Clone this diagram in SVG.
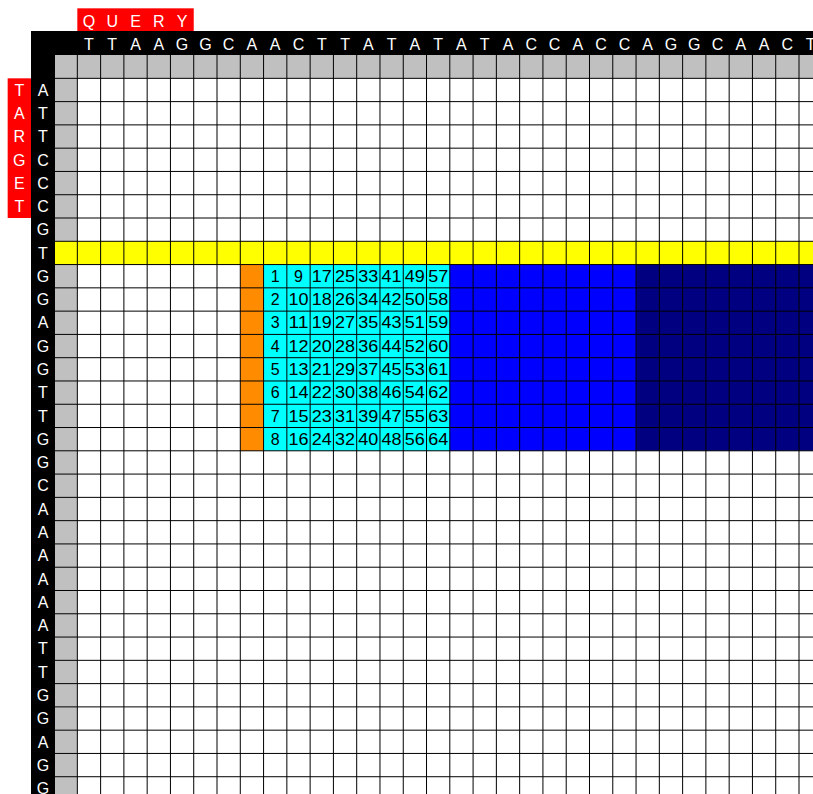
<svg xmlns="http://www.w3.org/2000/svg" width="813" height="794" viewBox="0 0 813 794">
<style>
.lbl{font-family:"Liberation Sans",Arial,sans-serif;font-size:16px;fill:#fff;text-anchor:middle}
.n{font-family:"Liberation Sans",Arial,sans-serif;font-size:16px;fill:#000;text-anchor:middle}
.grid{fill:none;stroke:#000;stroke-width:1}
</style>
<rect width="813" height="794" fill="#fff"/>
<g id="query-tag">
<rect x="77.33" y="8.33" width="116.4" height="22.67" fill="#ff0000"/>
<text class="lbl" x="88.97 112.25 135.53 158.81 182.09" y="27.3">QUERY</text>
</g>
<g id="target-tag">
<rect x="7.67" y="78.33" width="23.33" height="139.68" fill="#ff0000"/>
<text class="lbl" x="19.3 19.3 19.3 19.3 19.3 19.3" y="95.67 118.95 142.23 165.51 188.79 212.07">TARGET</text>
</g>
<g id="headers">
<rect x="31" y="31" width="782" height="24" fill="#000"/>
<rect x="31" y="31" width="24" height="763" fill="#000"/>
<rect x="55" y="55" width="758" height="23.33" fill="#c0c0c0"/>
<rect x="55" y="55" width="22.33" height="739" fill="#c0c0c0"/>
<text id="query-seq" class="lbl" x="88.97 112.25 135.53 158.81 182.09 205.37 228.65 251.93 275.21 298.49 321.77 345.05 368.33 391.61 414.89 438.17 461.45 484.73 508.01 531.29 554.57 577.85 601.13 624.41 647.69 670.97 694.25 717.53 740.81 764.09 787.37 810.65" y="49.5">TTAAGGCAACTTATATATACCACCAGGCAACT</text>
<text id="target-seq" class="lbl" x="43 43 43 43 43 43 43 43 43 43 43 43 43 43 43 43 43 43 43 43 43 43 43 43 43 43 43 43 43 43 43" y="95.67 118.95 142.23 165.51 188.79 212.07 235.35 258.63 281.91 305.19 328.47 351.75 375.03 398.31 421.59 444.87 468.15 491.43 514.71 537.99 561.27 584.55 607.83 631.11 654.39 677.67 700.95 724.23 747.51 770.79 794.07">ATTCCCGTGGAGGTTGGCAAAAAATTGGAGG</text>
</g>
<g id="highlights">
<rect x="55" y="241.29" width="758" height="23.28" fill="#ffff00"/>
<rect x="240.29" y="264.57" width="23.28" height="186.24" fill="#ff8c00"/>
<rect x="263.57" y="264.57" width="186.24" height="186.24" fill="#00ffff"/>
<rect x="449.81" y="264.57" width="186.24" height="186.24" fill="#0000ff"/>
<rect x="636.05" y="264.57" width="176.95" height="186.24" fill="#000080"/>
</g>
<g id="grid-lines">
<path class="grid" d="M77.33 55V794M100.61 55V794M123.89 55V794M147.17 55V794M170.45 55V794M193.73 55V794M217.01 55V794M240.29 55V794M263.57 55V794M286.85 55V794M310.13 55V794M333.41 55V794M356.69 55V794M379.97 55V794M403.25 55V794M426.53 55V794M449.81 55V794M473.09 55V794M496.37 55V794M519.65 55V794M542.93 55V794M566.21 55V794M589.49 55V794M612.77 55V794M636.05 55V794M659.33 55V794M682.61 55V794M705.89 55V794M729.17 55V794M752.45 55V794M775.73 55V794M799.01 55V794"/>
<path class="grid" d="M55 78.33H813M55 101.61H813M55 124.89H813M55 148.17H813M55 171.45H813M55 194.73H813M55 218.01H813M55 241.29H813M55 264.57H813M55 287.85H813M55 311.13H813M55 334.41H813M55 357.69H813M55 380.97H813M55 404.25H813M55 427.53H813M55 450.81H813M55 474.09H813M55 497.37H813M55 520.65H813M55 543.93H813M55 567.21H813M55 590.49H813M55 613.77H813M55 637.05H813M55 660.33H813M55 683.61H813M55 706.89H813M55 730.17H813M55 753.45H813M55 776.73H813"/>
</g>
<g id="numbers">
<text class="n" x="275.21" y="281.91">1</text><text class="n" x="298.49" y="281.91">9</text><text class="n" x="321.77" y="281.91" textLength="20" lengthAdjust="spacingAndGlyphs">17</text><text class="n" x="345.05" y="281.91" textLength="20" lengthAdjust="spacingAndGlyphs">25</text><text class="n" x="368.33" y="281.91" textLength="20" lengthAdjust="spacingAndGlyphs">33</text><text class="n" x="391.61" y="281.91" textLength="20" lengthAdjust="spacingAndGlyphs">41</text><text class="n" x="414.89" y="281.91" textLength="20" lengthAdjust="spacingAndGlyphs">49</text><text class="n" x="438.17" y="281.91" textLength="20" lengthAdjust="spacingAndGlyphs">57</text>
<text class="n" x="275.21" y="305.19">2</text><text class="n" x="298.49" y="305.19" textLength="20" lengthAdjust="spacingAndGlyphs">10</text><text class="n" x="321.77" y="305.19" textLength="20" lengthAdjust="spacingAndGlyphs">18</text><text class="n" x="345.05" y="305.19" textLength="20" lengthAdjust="spacingAndGlyphs">26</text><text class="n" x="368.33" y="305.19" textLength="20" lengthAdjust="spacingAndGlyphs">34</text><text class="n" x="391.61" y="305.19" textLength="20" lengthAdjust="spacingAndGlyphs">42</text><text class="n" x="414.89" y="305.19" textLength="20" lengthAdjust="spacingAndGlyphs">50</text><text class="n" x="438.17" y="305.19" textLength="20" lengthAdjust="spacingAndGlyphs">58</text>
<text class="n" x="275.21" y="328.47">3</text><text class="n" x="298.49" y="328.47" textLength="20" lengthAdjust="spacingAndGlyphs">11</text><text class="n" x="321.77" y="328.47" textLength="20" lengthAdjust="spacingAndGlyphs">19</text><text class="n" x="345.05" y="328.47" textLength="20" lengthAdjust="spacingAndGlyphs">27</text><text class="n" x="368.33" y="328.47" textLength="20" lengthAdjust="spacingAndGlyphs">35</text><text class="n" x="391.61" y="328.47" textLength="20" lengthAdjust="spacingAndGlyphs">43</text><text class="n" x="414.89" y="328.47" textLength="20" lengthAdjust="spacingAndGlyphs">51</text><text class="n" x="438.17" y="328.47" textLength="20" lengthAdjust="spacingAndGlyphs">59</text>
<text class="n" x="275.21" y="351.75">4</text><text class="n" x="298.49" y="351.75" textLength="20" lengthAdjust="spacingAndGlyphs">12</text><text class="n" x="321.77" y="351.75" textLength="20" lengthAdjust="spacingAndGlyphs">20</text><text class="n" x="345.05" y="351.75" textLength="20" lengthAdjust="spacingAndGlyphs">28</text><text class="n" x="368.33" y="351.75" textLength="20" lengthAdjust="spacingAndGlyphs">36</text><text class="n" x="391.61" y="351.75" textLength="20" lengthAdjust="spacingAndGlyphs">44</text><text class="n" x="414.89" y="351.75" textLength="20" lengthAdjust="spacingAndGlyphs">52</text><text class="n" x="438.17" y="351.75" textLength="20" lengthAdjust="spacingAndGlyphs">60</text>
<text class="n" x="275.21" y="375.03">5</text><text class="n" x="298.49" y="375.03" textLength="20" lengthAdjust="spacingAndGlyphs">13</text><text class="n" x="321.77" y="375.03" textLength="20" lengthAdjust="spacingAndGlyphs">21</text><text class="n" x="345.05" y="375.03" textLength="20" lengthAdjust="spacingAndGlyphs">29</text><text class="n" x="368.33" y="375.03" textLength="20" lengthAdjust="spacingAndGlyphs">37</text><text class="n" x="391.61" y="375.03" textLength="20" lengthAdjust="spacingAndGlyphs">45</text><text class="n" x="414.89" y="375.03" textLength="20" lengthAdjust="spacingAndGlyphs">53</text><text class="n" x="438.17" y="375.03" textLength="20" lengthAdjust="spacingAndGlyphs">61</text>
<text class="n" x="275.21" y="398.31">6</text><text class="n" x="298.49" y="398.31" textLength="20" lengthAdjust="spacingAndGlyphs">14</text><text class="n" x="321.77" y="398.31" textLength="20" lengthAdjust="spacingAndGlyphs">22</text><text class="n" x="345.05" y="398.31" textLength="20" lengthAdjust="spacingAndGlyphs">30</text><text class="n" x="368.33" y="398.31" textLength="20" lengthAdjust="spacingAndGlyphs">38</text><text class="n" x="391.61" y="398.31" textLength="20" lengthAdjust="spacingAndGlyphs">46</text><text class="n" x="414.89" y="398.31" textLength="20" lengthAdjust="spacingAndGlyphs">54</text><text class="n" x="438.17" y="398.31" textLength="20" lengthAdjust="spacingAndGlyphs">62</text>
<text class="n" x="275.21" y="421.59">7</text><text class="n" x="298.49" y="421.59" textLength="20" lengthAdjust="spacingAndGlyphs">15</text><text class="n" x="321.77" y="421.59" textLength="20" lengthAdjust="spacingAndGlyphs">23</text><text class="n" x="345.05" y="421.59" textLength="20" lengthAdjust="spacingAndGlyphs">31</text><text class="n" x="368.33" y="421.59" textLength="20" lengthAdjust="spacingAndGlyphs">39</text><text class="n" x="391.61" y="421.59" textLength="20" lengthAdjust="spacingAndGlyphs">47</text><text class="n" x="414.89" y="421.59" textLength="20" lengthAdjust="spacingAndGlyphs">55</text><text class="n" x="438.17" y="421.59" textLength="20" lengthAdjust="spacingAndGlyphs">63</text>
<text class="n" x="275.21" y="444.87">8</text><text class="n" x="298.49" y="444.87" textLength="20" lengthAdjust="spacingAndGlyphs">16</text><text class="n" x="321.77" y="444.87" textLength="20" lengthAdjust="spacingAndGlyphs">24</text><text class="n" x="345.05" y="444.87" textLength="20" lengthAdjust="spacingAndGlyphs">32</text><text class="n" x="368.33" y="444.87" textLength="20" lengthAdjust="spacingAndGlyphs">40</text><text class="n" x="391.61" y="444.87" textLength="20" lengthAdjust="spacingAndGlyphs">48</text><text class="n" x="414.89" y="444.87" textLength="20" lengthAdjust="spacingAndGlyphs">56</text><text class="n" x="438.17" y="444.87" textLength="20" lengthAdjust="spacingAndGlyphs">64</text>
</g>
</svg>
